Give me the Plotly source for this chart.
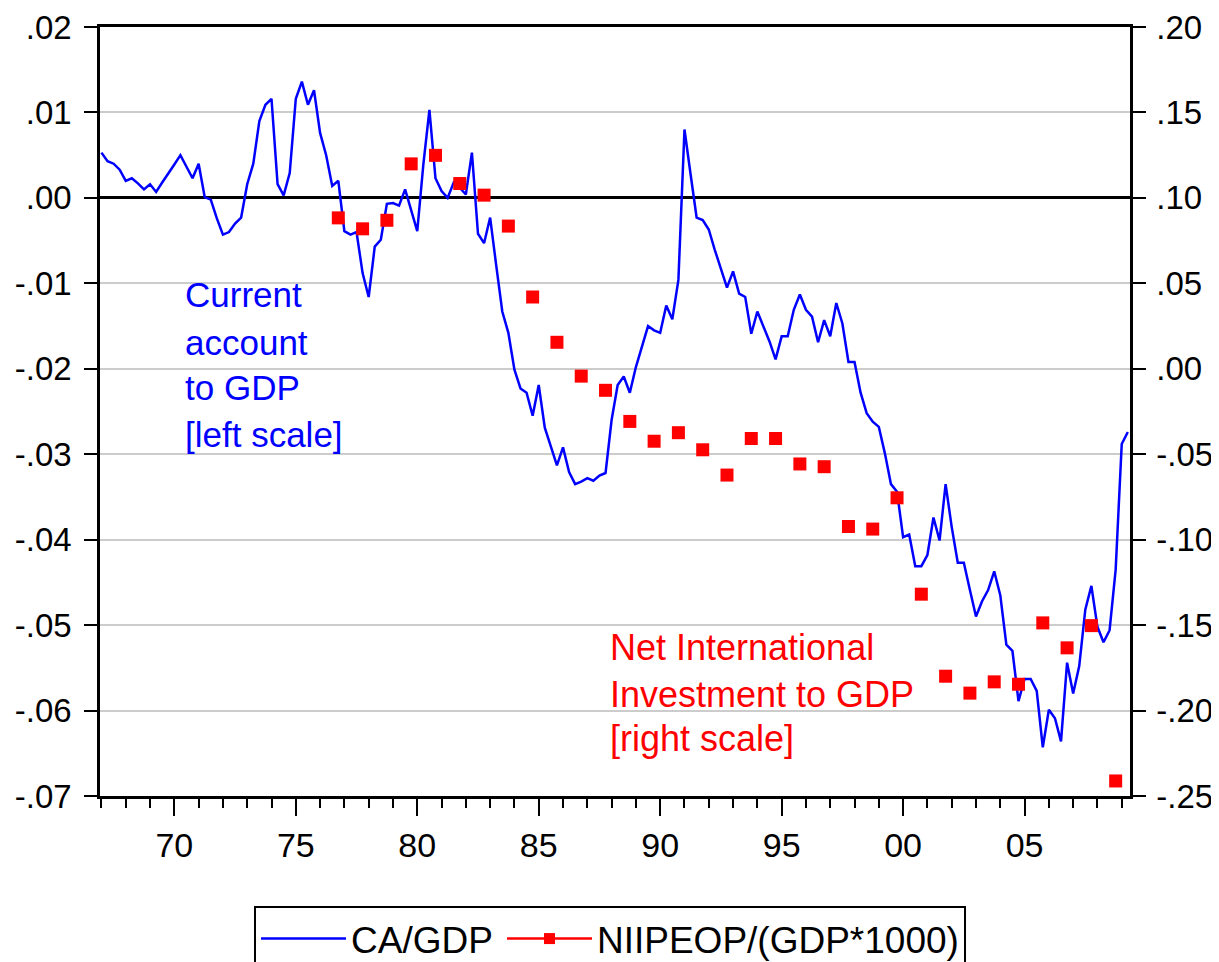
import plotly.graph_objects as go
import pandas as pd

# ---------------- data ----------------
quarters = pd.period_range("1967Q1", "2009Q2", freq="Q")

ca_gdp = [
    0.0053, 0.0043, 0.0040, 0.0033, 0.0020, 0.0023, 0.0017, 0.0010,   # 1967-68
    0.0016, 0.0007, 0.0018, 0.0028, 0.0039, 0.0050, 0.0037, 0.0023,   # 1969-70
    0.0040, 0.0001, -0.0002, -0.0024, -0.0043, -0.0040, -0.0030, -0.0023,  # 1971-72
    0.0016, 0.0040, 0.0090, 0.0109, 0.0116, 0.0016, 0.0003, 0.0029,   # 1973-74
    0.0116, 0.0136, 0.0109, 0.0126, 0.0076, 0.0050, 0.0014, 0.0020,   # 1975-76
    -0.0039, -0.0043, -0.0040, -0.0088, -0.0116, -0.0057, -0.0049, -0.0007,  # 1977-78
    -0.0006, -0.0009, 0.0010, -0.0014, -0.0039, 0.0039, 0.0103, 0.0023,  # 1979-80
    0.0008, 0.0000, 0.0018, 0.0012, 0.0004, 0.0053, -0.0042, -0.0053,  # 1981-82
    -0.0023, -0.0079, -0.0133, -0.0158, -0.0201, -0.0223, -0.0228, -0.0255,  # 1983-84
    -0.0219, -0.0269, -0.0290, -0.0313, -0.0292, -0.0321, -0.0335, -0.0332,  # 1985-86
    -0.0328, -0.0331, -0.0325, -0.0322, -0.0260, -0.0219, -0.0209, -0.0228,  # 1987-88
    -0.0198, -0.0175, -0.0150, -0.0155, -0.0158, -0.0126, -0.0142, -0.0096,  # 1989-90
    0.0080, 0.0028, -0.0023, -0.0026, -0.0037, -0.0061, -0.0084, -0.0105,  # 1991-92
    -0.0086, -0.0112, -0.0116, -0.0159, -0.0133, -0.0150, -0.0168, -0.0189,  # 1993-94
    -0.0162, -0.0162, -0.0131, -0.0113, -0.0131, -0.0139, -0.0169, -0.0143,  # 1995-96
    -0.0162, -0.0123, -0.0147, -0.0192, -0.0192, -0.0228, -0.0252, -0.0262,  # 1997-98
    -0.0268, -0.0299, -0.0335, -0.0344, -0.0397, -0.0394, -0.0431, -0.0431,  # 1999-00
    -0.0418, -0.0374, -0.0401, -0.0335, -0.0385, -0.0427, -0.0427, -0.0459,  # 2001-02
    -0.0490, -0.0472, -0.0459, -0.0437, -0.0465, -0.0523, -0.0530, -0.0589,  # 2003-04
    -0.0563, -0.0563, -0.0577, -0.0643, -0.0599, -0.0609, -0.0636, -0.0544,  # 2005-06
    -0.0580, -0.0548, -0.0482, -0.0454, -0.0502, -0.0520, -0.0506, -0.0435,  # 2007-08
    -0.0288, -0.0274,                                                   # 2009
]

nii_periods = pd.period_range("1976Q4", "2008Q4", freq="4Q")  # end-of-year observations
nii_gdp = [
    0.0883, 0.0819, 0.0869, 0.1199, 0.1249, 0.1084, 0.1016, 0.0835, 0.0420,
    0.0155, -0.0043, -0.0126, -0.0308, -0.0424, -0.0374, -0.0474, -0.0622,
    -0.0408, -0.0408, -0.0557, -0.0573, -0.0923, -0.0938, -0.0755, -0.1319,
    -0.1799, -0.1898, -0.1832, -0.1846, -0.1487, -0.1633, -0.1503, -0.2412,
]

x_tick_vals = [1970, 1975, 1980, 1985, 1990, 1995, 2000, 2005]
x_tick_text = ["70", "75", "80", "85", "90", "95", "00", "05"]
left_tick_vals = [0.02, 0.01, 0.0, -0.01, -0.02, -0.03, -0.04, -0.05, -0.06, -0.07]
left_tick_text = [".02", ".01", ".00", "-.01", "-.02", "-.03", "-.04", "-.05", "-.06", "-.07"]
right_tick_vals = [0.20, 0.15, 0.10, 0.05, 0.0, -0.05, -0.10, -0.15, -0.20, -0.25]
right_tick_text = [".20", ".15", ".10", ".05", ".00", "-.05", "-.10", "-.15", "-.20", "-.25"]

# ---------------- positions on the time axis ----------------
x_q = [p.year + (p.quarter - 1) / 4 for p in quarters]
x_a = [p.year + (p.quarter - 1) / 4 for p in nii_periods]

FONT = "Liberation Sans, Arial, sans-serif"
BLUE = "#0000FF"
RED = "#FF0000"

fig = go.Figure()
fig.add_trace(go.Scatter(
    x=x_q, y=ca_gdp, mode="lines", name="CA/GDP",
    line=dict(color=BLUE, width=2.5), yaxis="y", legendwidth=146,
))
fig.add_trace(go.Scatter(
    x=x_a, y=nii_gdp, mode="markers", name="NIIPEOP/(GDP*1000)",
    marker=dict(color=RED, symbol="square", size=13),
    yaxis="y2", showlegend=False,
))
# legend entry (line + marker) for the red series
fig.add_trace(go.Scatter(
    x=[None], y=[None], mode="lines+markers", name="NIIPEOP/(GDP*1000)",
    line=dict(color=RED, width=2.5),
    marker=dict(color=RED, symbol="square", size=11),
    yaxis="y2",
))

# the page body adds an 8px offset; margins compensate so the plot sits at 100..1130 x 27..796
fig.update_layout(
    width=1219, height=962,
    margin=dict(l=92, r=97, t=19, b=174, autoexpand=False),
    paper_bgcolor="white", plot_bgcolor="white",
    font=dict(family=FONT, color="black"),
    showlegend=True,
    legend=dict(
        orientation="h", xref="paper", x=0.1495, xanchor="left",
        yref="container", y=0.0665, yanchor="top",
        itemwidth=85,
        bordercolor="black", borderwidth=2, font=dict(size=37, color="black"),
        bgcolor="white",
    ),
    xaxis=dict(
        range=[1966.94, 2009.34], automargin=False,
        tickmode="array", tickvals=x_tick_vals, ticktext=x_tick_text,
        ticks="outside", ticklen=17, tickwidth=2, tickcolor="black",
        showline=True, linecolor="black", linewidth=2.5, mirror=True,
        showgrid=False, zeroline=False,
        tickfont=dict(size=34, family=FONT, color="black"),
        minor=dict(tickmode="linear", tick0=1967, dtick=1, ticks="outside",
                   ticklen=9, tickwidth=2, tickcolor="black", showgrid=False),
    ),
    yaxis=dict(
        range=[-0.07, 0.02], automargin=False,
        tickmode="array", tickvals=left_tick_vals, ticktext=left_tick_text,
        ticks="outside", ticklen=13, tickwidth=2, tickcolor="black",
        ticklabelstandoff=6,
        showline=True, linecolor="black", linewidth=2.5, mirror=True,
        showgrid=True, gridcolor="#cccccc", gridwidth=2,
        zeroline=True, zerolinecolor="black", zerolinewidth=2.5,
        tickfont=dict(size=33, family=FONT, color="black"),
    ),
    yaxis2=dict(
        range=[-0.25, 0.20], overlaying="y", side="right", automargin=False,
        tickmode="array", tickvals=right_tick_vals, ticktext=right_tick_text,
        ticks="outside", ticklen=13, tickwidth=2, tickcolor="black",
        ticklabelstandoff=4,
        showline=True, linecolor="black", linewidth=2.5,
        showgrid=False, zeroline=False,
        tickfont=dict(size=33, family=FONT, color="black"),
    ),
)

blue_lines = [("Current", 0.6525), ("account", 0.5897), ("to GDP", 0.5312), ("[left scale]", 0.4705)]
for txt, yy in blue_lines:
    fig.add_annotation(text=txt, xref="paper", yref="paper", x=0.0806, y=yy,
                       xanchor="left", yanchor="middle", showarrow=False,
                       font=dict(size=35, color=BLUE, family=FONT))

red_lines = [("Net International", 0.1927), ("Investment to GDP", 0.1321), ("[right scale]", 0.0744)]
for txt, yy in red_lines:
    fig.add_annotation(text=txt, xref="paper", yref="paper", x=0.4932, y=yy,
                       xanchor="left", yanchor="middle", showarrow=False,
                       font=dict(size=36, color=RED, family=FONT))

fig.write_html("out.html")
